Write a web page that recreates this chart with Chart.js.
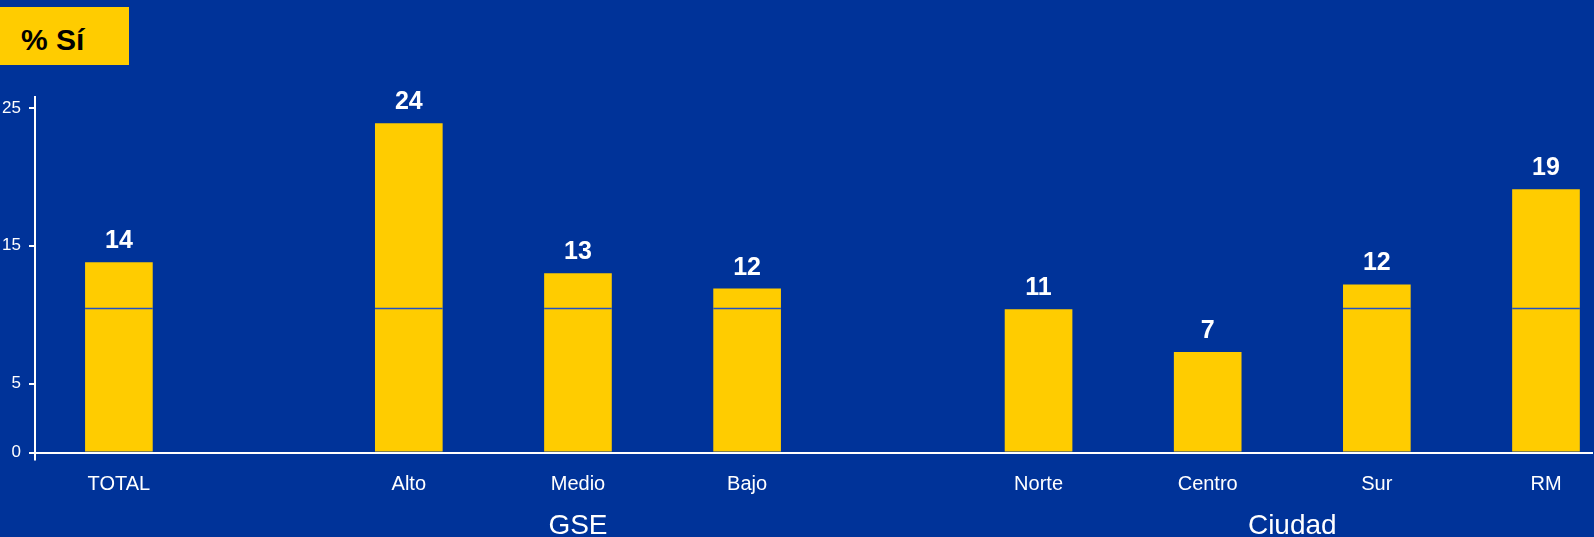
<!DOCTYPE html>
<html>
<head>
<meta charset="utf-8">
<script src="https://cdn.jsdelivr.net/npm/chart.js@4.4.0/dist/chart.umd.min.js"></script>
<style>
  html, body { margin: 0; padding: 0; background: #003399; }
  #wrap { position: relative; width: 1594px; height: 537px; }
  #badge {
    position: absolute; left: 0; top: 7px; width: 129px; height: 58px;
    background: #ffcc00; color: #000; font: bold 30px "Liberation Sans", Arial, sans-serif;
    line-height: 58px; padding: 4px 0 0 21px; box-sizing: border-box;
  }
</style>
</head>
<body>
<div id="wrap">
  <canvas id="chart"></canvas>
  <div id="badge">% Sí</div>
</div>
<script>
// categories and values
const categories = ['TOTAL', 'Alto', 'Medio', 'Bajo', 'Norte', 'Centro', 'Sur', 'RM'];
const values = [13.8, 23.9, 13.0, 11.9, 10.4, 7.3, 12.2, 19.1];
const valueLabels = ['14', '24', '13', '12', '11', '7', '12', '19'];
const yTicks = [0, 5, 15, 25];
const groups = ['GSE', 'Ciudad'];
const groupMembers = [[1, 2, 3], [4, 5, 6, 7]];
const refLine = 10.45;

// slot of each category on the x axis (groups are spaced apart)
const slots = [0, 1.714, 2.714, 3.714, 5.437, 6.437, 7.437, 8.437];

const FONT = '"Liberation Sans", Arial, sans-serif';

const overlay = {
  id: 'overlay',
  afterDatasetsDraw(chart) {
    const ctx = chart.ctx;
    const y = chart.scales.y;
    const x = chart.scales.x;
    const bars = chart.getDatasetMeta(0).data;
    const lineY = y.getPixelForValue(refLine);
    ctx.save();
    // thin blue line across the bars
    ctx.strokeStyle = '#1f50c8';
    ctx.lineWidth = 1.5;
    bars.forEach(b => {
      if (b.y < lineY) {
        ctx.beginPath();
        ctx.moveTo(b.x - b.width / 2, lineY);
        ctx.lineTo(b.x + b.width / 2, lineY);
        ctx.stroke();
      }
    });
    // value labels
    ctx.fillStyle = '#ffffff';
    ctx.font = 'bold 25px ' + FONT;
    ctx.textAlign = 'center';
    ctx.textBaseline = 'alphabetic';
    bars.forEach((b, i) => ctx.fillText(valueLabels[i], b.x, b.y - 14));
    // y axis line, running a little below zero
    ctx.strokeStyle = '#ffffff';
    ctx.lineWidth = 2;
    ctx.beginPath();
    ctx.moveTo(y.right, chart.chartArea.top);
    ctx.lineTo(y.right, chart.chartArea.bottom + 8);
    ctx.stroke();
    // group labels
    ctx.font = '28px ' + FONT;
    groups.forEach((g, gi) => {
      const m = groupMembers[gi];
      const cx = (x.getPixelForValue(slots[m[0]]) + x.getPixelForValue(slots[m[m.length - 1]])) / 2;
      ctx.fillText(g, cx, 534);
    });
    ctx.restore();
  }
};

new Chart(document.getElementById('chart'), {
  type: 'bar',
  data: {
    datasets: [{
      data: values.map((v, i) => ({ x: slots[i], y: v })),
      backgroundColor: '#ffcc00',
      borderWidth: 0,
      barPercentage: 0.40,
      categoryPercentage: 1
    }]
  },
  options: {
    responsive: true,
    maintainAspectRatio: false,
    animation: false,
    layout: { padding: { top: 96, right: 2, left: 0, bottom: 0 } },
    plugins: { legend: { display: false }, tooltip: { enabled: false } },
    scales: {
      x: {
        type: 'linear',
        offset: false,
        min: -0.496,
        max: 8.709,
        afterBuildTicks: s => { s.ticks = slots.map(v => ({ value: v })); },
        afterFit: s => { s.height = 84.5; },
        grid: { display: false, offset: false },
        border: { display: true, color: '#ffffff', width: 2 },
        ticks: {
          autoSkip: false,
          maxRotation: 0,
          padding: 12,
          color: '#ffffff',
          font: { family: FONT, size: 20 },
          callback: (v, i) => categories[i]
        }
      },
      y: {
        min: 0,
        max: 25.87,
        afterBuildTicks: s => { s.ticks = yTicks.map(v => ({ value: v })); },
        afterFit: s => { s.width = 35; },
        grid: { drawOnChartArea: false, drawTicks: true, tickLength: 6, color: '#ffffff', lineWidth: 2 },
        border: { display: false },
        ticks: {
          padding: 8,
          color: '#ffffff',
          font: { family: FONT, size: 17 }
        }
      }
    }
  },
  plugins: [overlay]
});
</script>
</body>
</html>
